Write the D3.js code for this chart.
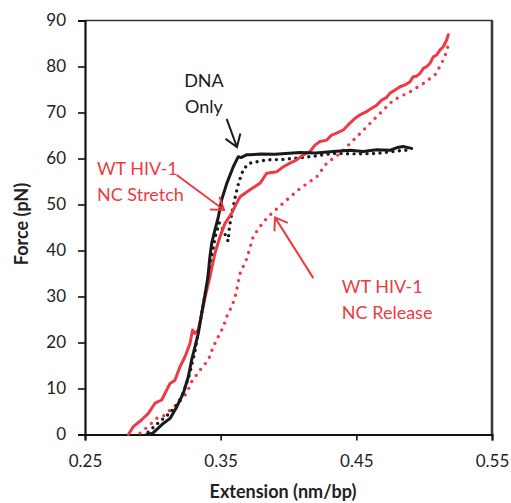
<!DOCTYPE html>
<html>
<head>
<meta charset="utf-8">
<script src="https://cdn.jsdelivr.net/npm/d3@7"></script>
<style>
  html, body { margin: 0; padding: 0; background: #fff; }
  text { font-family: Lato, "Open Sans", sans-serif; }
</style>
</head>
<body>
<div id="chart"></div>
<script>
// --- data: [extension nm/bp, force pN] ---
const dnaStretch = [
  [0.2955, 0], [0.300, 0.3], [0.3077, 2.4], [0.3127, 3.5], [0.3176, 6], [0.3225, 9],
  [0.3262, 12.6], [0.3286, 16.2], [0.331, 19], [0.3335, 22], [0.336, 26.3], [0.3385, 30.5],
  [0.3405, 34], [0.3421, 38.7], [0.3434, 41.6], [0.3458, 44.5], [0.3483, 47.3], [0.3507, 51],
  [0.3545, 54.6], [0.3593, 58.2], [0.363, 60.4], [0.365, 60.2], [0.369, 60.8], [0.3716, 60.8],
  [0.380, 61.0], [0.390, 60.9], [0.4085, 61.3], [0.420, 61.2], [0.433, 61.5], [0.4454, 61.8],
  [0.455, 61.5], [0.465, 61.9], [0.475, 61.8], [0.4805, 62.4], [0.4843, 62.6], [0.4908, 62.2]
];
const dnaRelease = [
  [0.2965, 0.5], [0.305, 2.8], [0.312, 4.5], [0.318, 6.5], [0.323, 9.5], [0.327, 13],
  [0.331, 18], [0.334, 23], [0.337, 28], [0.340, 33], [0.343, 38], [0.346, 43], [0.349, 46],
  [0.3525, 44], [0.3555, 42], [0.3565, 45.2], [0.3585, 48.5], [0.361, 52], [0.3635, 55],
  [0.367, 57.8], [0.3716, 59], [0.3839, 59.7], [0.396, 59.8], [0.4159, 60.4], [0.433, 61.1],
  [0.450, 61.0], [0.465, 61.1], [0.4847, 61.8], [0.4908, 61.8]
];
const ncStretch = [
  [0.282, 0], [0.2856, 1.7], [0.2918, 3.2], [0.2967, 4.6], [0.3016, 6.8], [0.3065, 7.5],
  [0.3127, 11.1], [0.3163, 11.8], [0.320, 14.7], [0.3237, 16.9], [0.3274, 19.8], [0.3293, 22.7],
  [0.331, 22], [0.3335, 22.7], [0.336, 26.3], [0.3385, 29.8], [0.3421, 34.3], [0.3458, 39.4],
  [0.3495, 43], [0.3532, 45.9], [0.3581, 48.1], [0.3618, 50.3], [0.3643, 51.7], [0.3716, 53.2],
  [0.379, 54.6], [0.3839, 56.8], [0.3913, 57.1], [0.3962, 58.2], [0.4011, 59.0], [0.4060, 59.7],
  [0.4109, 60.8], [0.4158, 61.5], [0.4195, 62.9], [0.4232, 63.7], [0.4281, 64.0], [0.4318, 65.1],
  [0.4355, 65.5], [0.4404, 66.2], [0.4453, 67.7], [0.4490, 68.7], [0.4527, 69.5], [0.4576, 70.2],
  [0.4613, 70.9], [0.4650, 71.6], [0.4687, 72.7], [0.4724, 73.3], [0.4748, 74.2], [0.4785, 74.9],
  [0.4822, 75.6], [0.4859, 76.0], [0.4896, 76.7], [0.4920, 77.8], [0.4945, 77.9], [0.4969, 78.5],
  [0.4994, 79.6], [0.5019, 80.0], [0.5043, 80.7], [0.5067, 82.1], [0.5092, 82.5], [0.5117, 83.6],
  [0.5141, 84.3], [0.5166, 85.8], [0.5178, 86.9]
];
const ncRelease = [
  [0.2905, 0.3], [0.2967, 1.8], [0.3028, 3.5], [0.309, 4.2], [0.3127, 5.3], [0.3188, 6.8],
  [0.325, 9], [0.3286, 11.5], [0.3348, 14], [0.3409, 16.2], [0.3446, 19.1], [0.3483, 21.3],
  [0.352, 23.4], [0.3544, 25.6], [0.3581, 27.8], [0.3606, 29.8], [0.3643, 35], [0.3692, 38.2],
  [0.374, 43], [0.379, 45.2], [0.3839, 47], [0.3888, 48.4], [0.3962, 50.3], [0.4072, 53.2],
  [0.4208, 56], [0.4282, 59], [0.438, 61.1], [0.4503, 64.7], [0.465, 69.1], [0.4773, 72.7],
  [0.4896, 74.5], [0.4994, 76.3], [0.508, 78.2], [0.5129, 80.7], [0.5161, 82.9], [0.5178, 84.7]
];

const xTicks = [0.25, 0.35, 0.45, 0.55];
const yTicks = [0, 10, 20, 30, 40, 50, 60, 70, 80, 90];

// annotation text and arrows (data units: [x, y])
const labels = [
  { lines: ["DNA", "Only"], at: [0.3377, 75.6], anchor: "middle", color: "#1a1a1a" },
  { lines: ["WT HIV-1", "NC Stretch"], at: [0.2588, 56.4], anchor: "start", color: "#ee3a43" },
  { lines: ["WT HIV-1", "NC Release"], at: [0.4393, 30.7], anchor: "start", color: "#ee3a43" }
];
const arrows = [
  { from: [0.3544, 68.6], to: [0.362, 62.5], color: "#1a1a1a" },
  { from: [0.3176, 56.4], to: [0.3525, 48.8], color: "#ee3a43" },
  { from: [0.4183, 34.0], to: [0.390, 47.2], color: "#ee3a43" }
];

// --- layout ---
const W = 511, H = 503;
const margin = { top: 20.5, right: 19, bottom: 68.5, left: 85 };

const x = d3.scaleLinear().domain([0.25, 0.55]).range([margin.left, W - margin.right]);
const y = d3.scaleLinear().domain([0, 90]).range([H - margin.bottom, margin.top]);

const svg = d3.select("#chart").append("svg")
  .attr("width", W)
  .attr("height", H);

// plot area box (top + right)
svg.append("path")
  .attr("d", `M${x(0.25)},${y(90)}H${x(0.55)}V${y(0)}`)
  .attr("fill", "none")
  .attr("stroke", "#333")
  .attr("stroke-width", 1.6);
svg.append("line")
  .attr("x1", x(0.55)).attr("x2", x(0.55))
  .attr("y1", y(90)).attr("y2", y(0))
  .attr("stroke", "#3a3a3a").attr("stroke-width", 2.6);

// x axis
const xAxis = svg.append("g").attr("transform", `translate(0,${y(0)})`);
xAxis.call(d3.axisBottom(x).tickValues(d3.range(0.25, 0.5501, 0.02)).tickSize(6).tickFormat(""));
xAxis.call(d3.axisBottom(x).tickValues(xTicks).tickSize(6).tickFormat(d3.format(".2f")).tickPadding(16));
xAxis.selectAll(".domain").attr("stroke", "#111").attr("stroke-width", 2);
xAxis.selectAll(".tick line").attr("stroke", "#111").attr("stroke-width", 1.6);
xAxis.selectAll("text")
  .style("font-size", "17px").attr("fill", "#222")
  .attr("dy", "0.6em");

// y axis
const yAxis = svg.append("g").attr("transform", `translate(${x(0.25)},0)`);
yAxis.call(d3.axisLeft(y).tickValues(d3.range(0, 90.01, 2)).tickSize(4.5).tickFormat(""));
yAxis.call(d3.axisLeft(y).tickValues(yTicks).tickSize(7).tickPadding(12));
yAxis.selectAll(".domain").attr("stroke", "#111").attr("stroke-width", 2.2);
yAxis.selectAll(".tick line").attr("stroke", "#111").attr("stroke-width", 1.6);
yAxis.selectAll("text").style("font-size", "17px").attr("fill", "#222");

// axis titles
svg.append("text")
  .attr("x", 283).attr("y", 498)
  .attr("text-anchor", "middle")
  .style("font-size", "18px").style("font-weight", "bold").attr("fill", "#222")
  .text("Extension (nm/bp)");
svg.append("text")
  .attr("transform", `translate(28,${224}) rotate(-90)`)
  .attr("text-anchor", "middle")
  .style("font-size", "18px").style("font-weight", "bold").attr("fill", "#222")
  .text("Force (pN)");

// curves
const line = d3.line().x(d => x(d[0])).y(d => y(d[1])).curve(d3.curveLinear);

const series = [
  { data: ncRelease, color: "#ee3a43", width: 3.4, dash: "0 7.5" },
  { data: dnaRelease, color: "#1a1a1a", width: 3.4, dash: "0 6.5" },
  { data: ncStretch, color: "#ee3a43", width: 3, dash: null },
  { data: dnaStretch, color: "#1a1a1a", width: 3, dash: null }
];

svg.selectAll("path.curve")
  .data(series)
  .enter().append("path")
  .attr("class", "curve")
  .attr("d", d => line(d.data))
  .attr("fill", "none")
  .attr("stroke", d => d.color)
  .attr("stroke-width", d => d.width)
  .attr("stroke-linecap", "round")
  .attr("stroke-linejoin", "round")
  .attr("stroke-dasharray", d => d.dash);

// arrows
arrows.forEach(a => {
  const x1 = x(a.from[0]), y1 = y(a.from[1]);
  const x2 = x(a.to[0]), y2 = y(a.to[1]);
  const ang = Math.atan2(y1 - y2, x1 - x2);
  const len = 14, spread = 0.6;
  const b1 = [x2 + len * Math.cos(ang - spread), y2 + len * Math.sin(ang - spread)];
  const b2 = [x2 + len * Math.cos(ang + spread), y2 + len * Math.sin(ang + spread)];
  svg.append("path")
    .attr("d", `M${x1},${y1}L${x2},${y2}M${b1[0]},${b1[1]}L${x2},${y2}L${b2[0]},${b2[1]}`)
    .attr("fill", "none")
    .attr("stroke", a.color)
    .attr("stroke-width", 2);
});

// annotation labels
labels.forEach(l => {
  const t = svg.append("text")
    .attr("x", x(l.at[0])).attr("y", y(l.at[1]))
    .attr("text-anchor", l.anchor)
    .style("font-size", "18px")
    .attr("fill", l.color);
  l.lines.forEach((s, i) => {
    t.append("tspan").attr("x", x(l.at[0])).attr("dy", i === 0 ? 0 : 26).text(s);
  });
});
</script>
</body>
</html>
